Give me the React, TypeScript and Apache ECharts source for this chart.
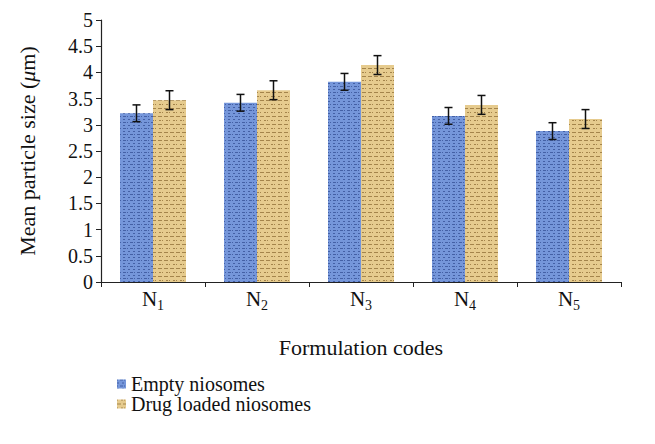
import React, { useEffect, useRef } from "react";
import * as echarts from "echarts";

const categories = ["1", "2", "3", "4", "5"];
const emptyValues = [3.22, 3.42, 3.82, 3.17, 2.88];
const emptyErrors = [0.16, 0.16, 0.16, 0.16, 0.16];
const loadedValues = [3.47, 3.66, 4.14, 3.38, 3.11];
const loadedErrors = [0.18, 0.18, 0.18, 0.18, 0.18];
const yTicks = [0, 0.5, 1, 1.5, 2, 2.5, 3, 3.5, 4, 4.5, 5];

const FONT = "Liberation Serif";
const BAR_W = 33;

export default function App() {
  const ref = useRef<HTMLDivElement>(null);
  useEffect(() => {
    if (!ref.current) return;
    const chart = echarts.init(ref.current, undefined, { renderer: "svg" });
    const errItem = (offset: number, vals: number[], errs: number[]) => (params: any, api: any) => {
      const i = api.value(0);
      const v = vals[i];
      const e = errs[i];
      const top = api.coord([i, v + e]);
      const bot = api.coord([i, v - e]);
      const x = top[0] + offset;
      const style = { stroke: "#111", lineWidth: 1.5 };
      return {
        type: "group",
        children: [
          { type: "line", shape: { x1: x, y1: top[1], x2: x, y2: bot[1] }, style },
          { type: "line", shape: { x1: x - 4, y1: top[1], x2: x + 4, y2: top[1] }, style },
          { type: "line", shape: { x1: x - 4, y1: bot[1], x2: x + 4, y2: bot[1] }, style },
        ],
      };
    };
    const idx = categories.map((_, i) => [i]);
    chart.setOption({
      animation: false,
      grid: { left: 87, right: 26, top: 12, bottom: 154 },
      legend: {
        orient: "vertical",
        left: 104,
        top: 361,
        itemWidth: 9,
        itemHeight: 9,
        itemGap: 0,
        icon: "rect",
        textStyle: { fontFamily: FONT, fontSize: 20, lineHeight: 20, color: "#111" },
        data: ["Empty niosomes", "Drug loaded niosomes"],
      },
      xAxis: {
        type: "category",
        data: categories,
        boundaryGap: true,
        axisLine: { lineStyle: { color: "#222", width: 1.2 } },
        axisTick: { show: true, length: 5, alignWithLabel: false, lineStyle: { color: "#222" } },
        axisLabel: {
          margin: 4,
          formatter: (v: string) => `{n|N}{s|${v}}`,
          rich: {
            n: { fontFamily: FONT, fontSize: 21, color: "#111" },
            s: { fontFamily: FONT, fontSize: 14, color: "#111", padding: [12, 0, 0, 0] },
          },
        },
        name: "Formulation codes",
        nameLocation: "middle",
        nameGap: 54,
        nameTextStyle: { fontFamily: FONT, fontSize: 22, color: "#111" },
      },
      yAxis: {
        type: "value",
        min: 0,
        max: 5,
        interval: 0.5,
        splitLine: { show: false },
        axisLine: { show: true, lineStyle: { color: "#222", width: 1.2 } },
        axisTick: { show: true, length: 5, lineStyle: { color: "#222" } },
        axisLabel: {
          margin: 8,
          fontFamily: FONT,
          fontSize: 20,
          color: "#111",
          formatter: (v: number) => (yTicks.includes(v) ? String(v) : ""),
        },
        name: "Mean particle size ({i|μ}m)",
        nameLocation: "middle",
        nameGap: 63,
        nameTextStyle: {
          fontFamily: FONT,
          fontSize: 22,
          color: "#111",
          rich: { i: { fontFamily: FONT, fontSize: 22, fontStyle: "italic", color: "#111" } },
        },
      },
      series: [
        {
          name: "Empty niosomes",
          type: "bar",
          data: emptyValues,
          barWidth: BAR_W,
          barGap: "0%",
          itemStyle: {
            color: "#7596da",
            decal: {
              symbol: "rect",
              symbolSize: 1,
              color: "rgba(35,60,130,0.6)",
              dashArrayX: [[2, 3], [1, 2, 3, 1]],
              dashArrayY: [1, 2],
              rotation: 0,
            },
          },
        },
        {
          name: "Drug loaded niosomes",
          type: "bar",
          data: loadedValues,
          barWidth: BAR_W,
          barGap: "0%",
          itemStyle: {
            color: "#e6cb8e",
            decal: {
              symbol: "rect",
              symbolSize: 1,
              color: "rgba(120,85,30,0.6)",
              dashArrayX: [[4, 2], [1, 3, 2, 1]],
              dashArrayY: [1, 3],
              rotation: 0,
            },
          },
        },
        {
          type: "custom",
          data: idx,
          renderItem: errItem(-BAR_W / 2, emptyValues, emptyErrors),
          z: 10,
          silent: true,
        },
        {
          type: "custom",
          data: idx,
          renderItem: errItem(BAR_W / 2, loadedValues, loadedErrors),
          z: 10,
          silent: true,
        },
      ],
    });
    return () => chart.dispose();
  }, []);
  return <div ref={ref} style={{ width: 639, height: 428 }} />;
}
